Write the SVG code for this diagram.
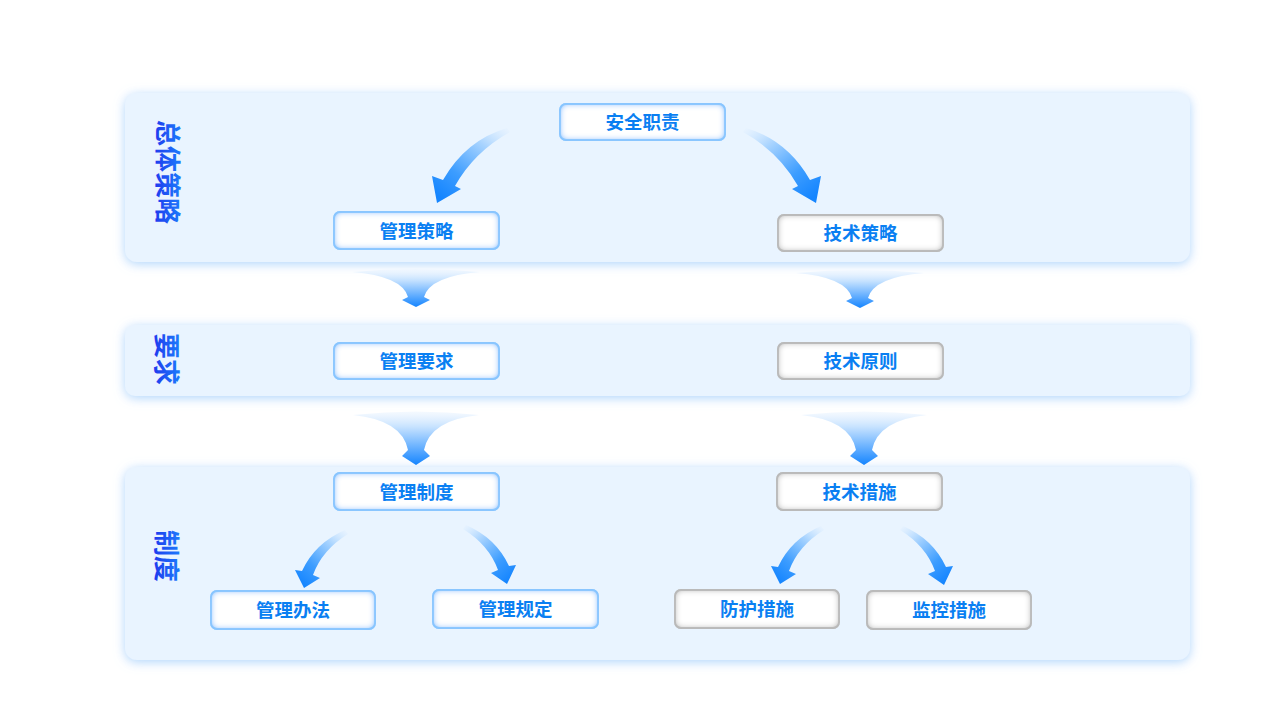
<svg xmlns="http://www.w3.org/2000/svg" width="1280" height="720" viewBox="0 0 1280 720">
<defs>
<style>
.panel{fill:#e9f4ff;filter:url(#pglow)}
.nb{fill:#ffffff;stroke:#96ccff;stroke-width:1.8;filter:url(#ibl)}
.ng{fill:#ffffff;stroke:#bfbfbf;stroke-width:1.8;filter:url(#igr)}
.nt{font-family:"Noto Sans CJK SC","Noto Sans",sans-serif;font-size:18.5px;font-weight:bold;fill:#0a7ff2;text-anchor:middle;dominant-baseline:central}
.sec{font-family:"Noto Sans CJK SC","Noto Sans",sans-serif;font-size:26px;font-weight:bold;fill:url(#secg);text-anchor:middle;dominant-baseline:central}
.ca{fill:url(#gL)}
.fa{fill:url(#gF)}
</style>
<filter id="pglow" x="-5%" y="-20%" width="110%" height="140%">
<feDropShadow dx="0" dy="2" stdDeviation="5.5" flood-color="#a2cefb" flood-opacity="0.85"/>
</filter>
<filter id="ibl" x="-20%" y="-60%" width="140%" height="220%">
<feComponentTransfer in="SourceAlpha" result="inv"><feFuncA type="table" tableValues="1 0"/></feComponentTransfer>
<feGaussianBlur in="inv" stdDeviation="3.5"/>
<feComponentTransfer result="b"><feFuncA type="linear" slope="1.7"/></feComponentTransfer>
<feFlood flood-color="#86c4ff" flood-opacity="1"/>
<feComposite operator="in" in2="b"/>
<feComposite operator="in" in2="SourceAlpha" result="g"/>
<feMerge><feMergeNode in="SourceGraphic"/><feMergeNode in="g"/></feMerge>
</filter>
<filter id="igr" x="-20%" y="-60%" width="140%" height="220%">
<feComponentTransfer in="SourceAlpha" result="inv"><feFuncA type="table" tableValues="1 0"/></feComponentTransfer>
<feGaussianBlur in="inv" stdDeviation="3.5"/>
<feComponentTransfer result="b"><feFuncA type="linear" slope="1.6"/></feComponentTransfer>
<feFlood flood-color="#b8b8b8" flood-opacity="1"/>
<feComposite operator="in" in2="b"/>
<feComposite operator="in" in2="SourceAlpha" result="g"/>
<feMerge><feMergeNode in="SourceGraphic"/><feMergeNode in="g"/></feMerge>
</filter>
<linearGradient id="secg" x1="0" y1="0" x2="0" y2="1">
<stop offset="0" stop-color="#1b8cff"/>
<stop offset="1" stop-color="#1f30ec"/>
</linearGradient>
<linearGradient id="gL" x1="1" y1="0" x2="0.2" y2="1">
<stop offset="0" stop-color="#eaf4ff" stop-opacity="0.5"/>
<stop offset="0.3" stop-color="#a9d4ff"/>
<stop offset="0.7" stop-color="#3d9dff"/>
<stop offset="1" stop-color="#1585ff"/>
</linearGradient>
<linearGradient id="gF" x1="0" y1="0" x2="0" y2="1">
<stop offset="0" stop-color="#eef6ff" stop-opacity="0.6"/>
<stop offset="0.3" stop-color="#c4e1ff"/>
<stop offset="1" stop-color="#1585ff"/>
</linearGradient>
</defs>
<rect width="1280" height="720" fill="#ffffff"/>

<g id="panels">
<rect id="panel-overall" class="panel" x="125" y="93" width="1065" height="169" rx="12"/>
<rect id="panel-req" class="panel" x="125" y="325" width="1065" height="71" rx="10"/>
<rect id="panel-sys" class="panel" x="125" y="467" width="1065" height="193" rx="12"/>
</g>

<g id="section-labels">
<text class="sec" transform="translate(169,172) rotate(90)">总体策略</text>
<text class="sec" transform="translate(168,359) rotate(90)">要求</text>
<text class="sec" transform="translate(168,556) rotate(90)">制度</text>
</g>

<g id="connectors">
<path class="ca" d="M507,128 Q466,140 443,180 L432,176 L437,203 L461,189 L455,186 Q474,152 510,132 Z"/>
<path class="ca" transform="translate(1253,0) scale(-1,1)" d="M507,128 Q466,140 443,180 L432,176 L437,203 L461,189 L455,186 Q474,152 510,132 Z"/>
<path class="fa" d="M352,272 Q402,276 408,297 L402,300 L416,307 L430,300 L424,297 Q430,276 480,272 Q416,266 352,272 Z"/>
<path class="fa" transform="translate(444,1)" d="M352,272 Q402,276 408,297 L402,300 L416,307 L430,300 L424,297 Q430,276 480,272 Q416,266 352,272 Z"/>
<path class="fa" d="M353,415 Q402,420 408,450 L402,456 L416,465 L430,456 L424,450 Q430,420 479,415 Q416,408 353,415 Z"/>
<path class="fa" transform="translate(448,0)" d="M353,415 Q402,420 408,450 L402,456 L416,465 L430,456 L424,450 Q430,420 479,415 Q416,408 353,415 Z"/>
<path class="ca" d="M345,530 Q315,543 302,571 L295,570 L304,588 L320,578 L313,575 Q322,550 348,534 Z"/>
<path class="ca" transform="translate(970,0) scale(-1,1)" d="M504,525 Q474,538 461,566 L454,565 L463,584 L479,573 L472,570 Q481,545 507,529 Z"/>
<path class="ca" transform="translate(476,-4)" d="M345,530 Q315,543 302,571 L295,570 L304,588 L320,578 L313,575 Q322,550 348,534 Z"/>
<path class="ca" transform="translate(1407,1) scale(-1,1)" d="M504,525 Q474,538 461,566 L454,565 L463,584 L479,573 L472,570 Q481,545 507,529 Z"/>
</g>

<g id="n-anquanzhize"><rect class="nb" x="560" y="104" width="165" height="36" rx="6"/><text class="nt" x="642.5" y="121">安全职责</text></g>
<g id="n-guanlicelue"><rect class="nb" x="334" y="212" width="165" height="37" rx="6"/><text class="nt" x="416.5" y="229.5">管理策略</text></g>
<g id="n-jishucelue"><rect class="ng" x="778" y="215" width="165" height="36" rx="6"/><text class="nt" x="860.5" y="232">技术策略</text></g>
<g id="n-guanliyaoqiu"><rect class="nb" x="334" y="343" width="165" height="36" rx="6"/><text class="nt" x="416.5" y="360">管理要求</text></g>
<g id="n-jishuyuanze"><rect class="ng" x="778" y="343" width="165" height="36" rx="6"/><text class="nt" x="860.5" y="360">技术原则</text></g>
<g id="n-guanlizhidu"><rect class="nb" x="334" y="473" width="165" height="37" rx="6"/><text class="nt" x="416.5" y="490.5">管理制度</text></g>
<g id="n-jishucuoshi"><rect class="ng" x="777" y="473" width="165" height="37" rx="6"/><text class="nt" x="859.5" y="490.5">技术措施</text></g>
<g id="n-guanlibanfa"><rect class="nb" x="211" y="591" width="164" height="38" rx="6"/><text class="nt" x="293" y="609">管理办法</text></g>
<g id="n-guanliguiding"><rect class="nb" x="433" y="590" width="165" height="38" rx="6"/><text class="nt" x="515.5" y="608">管理规定</text></g>
<g id="n-fanghucuoshi"><rect class="ng" x="675" y="590" width="164" height="38" rx="6"/><text class="nt" x="757" y="608">防护措施</text></g>
<g id="n-jiankongcuoshi"><rect class="ng" x="867" y="591" width="164" height="38" rx="6"/><text class="nt" x="949" y="609">监控措施</text></g>
</svg>
